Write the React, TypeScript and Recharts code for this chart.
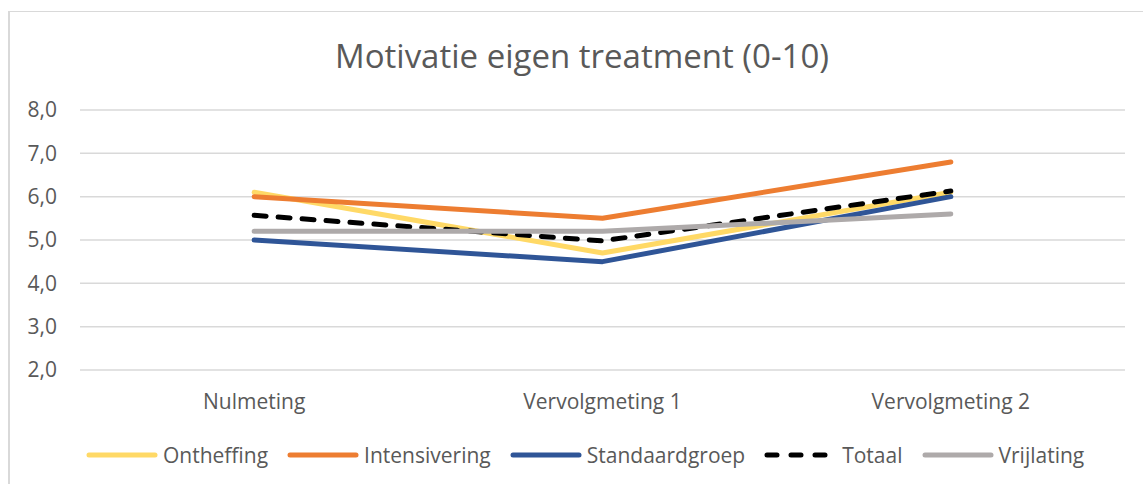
import { LineChart, Line, XAxis, YAxis, CartesianGrid } from "recharts";

const categories = ["Nulmeting", "Vervolgmeting 1", "Vervolgmeting 2"];
const ontheffing = [6.1, 4.7, 6.1];
const intensivering = [6.0, 5.5, 6.8];
const standaardgroep = [5.0, 4.5, 6.0];
const totaal = [5.57, 4.98, 6.13];
const vrijlating = [5.2, 5.2, 5.6];
const yTicks = [2, 3, 4, 5, 6, 7, 8];

const series = [
  { key: "Ontheffing", values: ontheffing, color: "#FFD966", dash: undefined },
  { key: "Intensivering", values: intensivering, color: "#ED7D31", dash: undefined },
  { key: "Standaardgroep", values: standaardgroep, color: "#2F5597", dash: undefined },
  { key: "Totaal", values: totaal, color: "#000000", dash: "12 12" },
  { key: "Vrijlating", values: vrijlating, color: "#AEAAAA", dash: undefined },
];

const data = categories.map((name, i) => {
  const row: Record<string, string | number> = { name };
  series.forEach((s) => {
    row[s.key] = s.values[i];
  });
  return row;
});

const font = "'Open Sans', sans-serif";
const textColor = "#595959";

export default function App() {
  return (
    <div style={{ position: "absolute", left: 0, top: 0, width: 1143, height: 484, background: "#fff", fontFamily: font, overflow: "hidden" }}>
      <div
        style={{
          position: "absolute",
          left: 8,
          top: 11,
          width: 1200,
          height: 500,
          borderLeft: "2px solid #d9d9d9",
          borderTop: "1px solid #d9d9d9",
        }}
      />
      <div style={{ position: "absolute", left: 0, top: 34, width: 1164, textAlign: "center", fontSize: 33, lineHeight: "44px", color: textColor }}>
        Motivatie eigen treatment (0-10)
      </div>
      <div style={{ position: "absolute", left: 0, top: 0 }}>
        <LineChart width={1143} height={484} data={data} margin={{ top: 110, right: 18, left: 0, bottom: 0 }}>
          <CartesianGrid vertical={false} stroke="#d9d9d9" strokeWidth={1.5} />
          <XAxis
            dataKey="name"
            scale="band"
            axisLine={false}
            tickLine={false}
            tickSize={0}
            tickMargin={24}
            height={114}
            tick={{ fill: textColor, fontSize: 21, fontFamily: font }}
          />
          <YAxis
            domain={[2, 8]}
            ticks={yTicks}
            width={80}
            axisLine={false}
            tickLine={false}
            tickSize={0}
            tickMargin={23}
            tickFormatter={(v: number) => v.toFixed(1).replace(".", ",")}
            tick={{ fill: textColor, fontSize: 21, fontFamily: font }}
          />
          {series.map((s) => (
            <Line
              key={s.key}
              dataKey={s.key}
              type="linear"
              stroke={s.color}
              strokeWidth={5}
              strokeDasharray={s.dash}
              strokeLinecap="round"
              strokeLinejoin="round"
              dot={false}
              activeDot={false}
              isAnimationActive={false}
            />
          ))}
        </LineChart>
      </div>
      <div style={{ position: "absolute", left: 85, top: 440, display: "flex", alignItems: "center", fontSize: 21, lineHeight: "30px", color: textColor }}>
        {series.map((s) => (
          <div key={s.key} style={{ display: "flex", alignItems: "center", marginRight: 18 }}>
            <svg width={74} height={8} style={{ marginRight: s.dash ? 5 : 4 }}>
              <line x1={4} y1={4} x2={70} y2={4} stroke={s.color} strokeWidth={5} strokeLinecap="round" strokeDasharray={s.dash ? "10 14" : undefined} />
            </svg>
            <span>{s.key}</span>
          </div>
        ))}
      </div>
    </div>
  );
}
